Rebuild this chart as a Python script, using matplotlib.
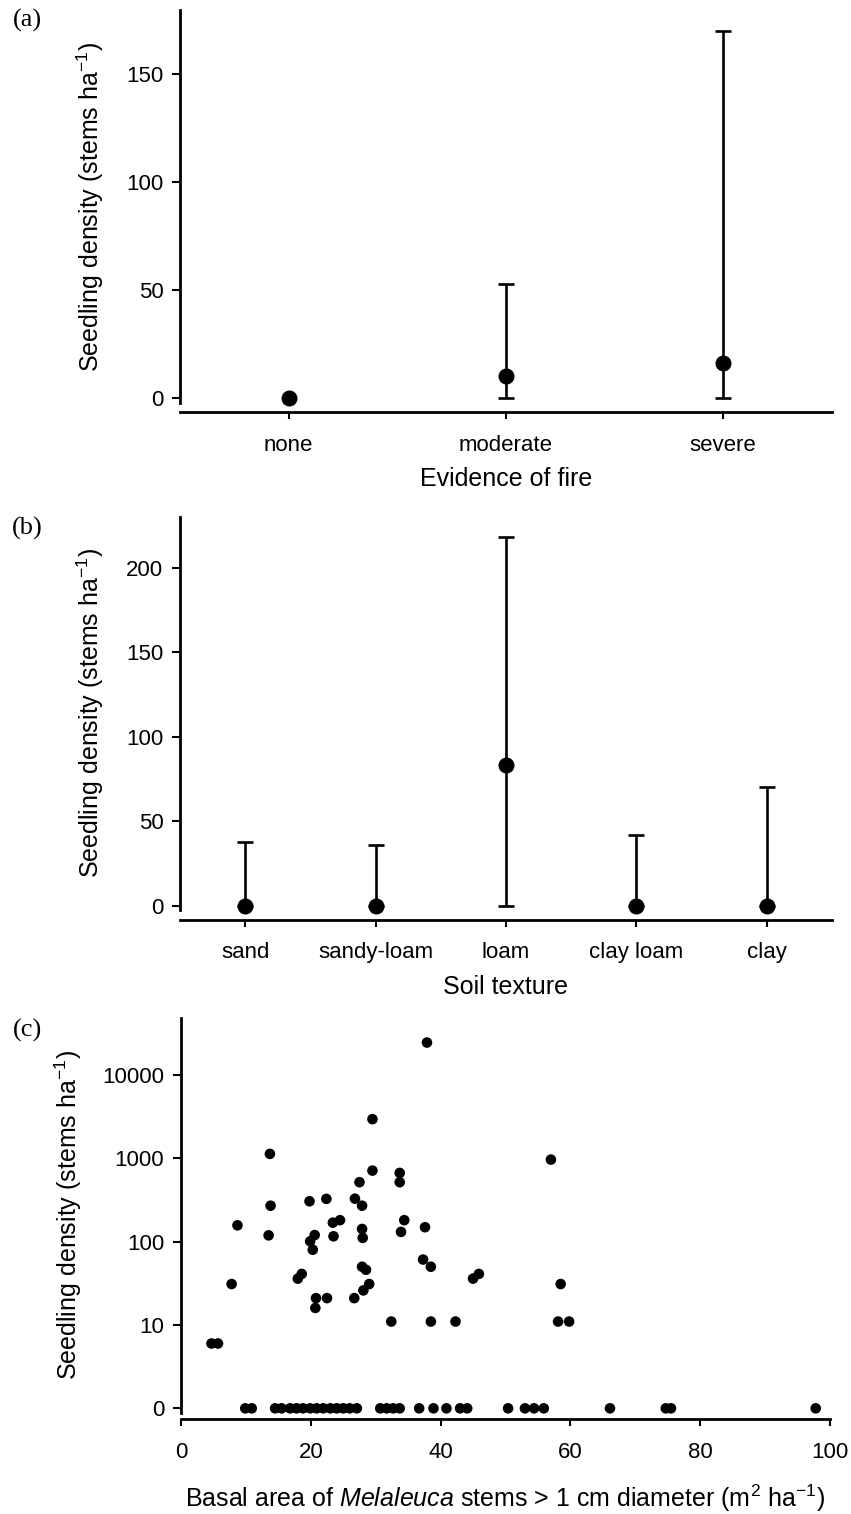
import numpy as np
import matplotlib
matplotlib.use('Agg')
import matplotlib.pyplot as plt
from matplotlib.ticker import NullLocator

plt.rcParams['font.family'] = ['Liberation Sans', 'DejaVu Sans']
plt.rcParams['mathtext.fontset'] = 'custom'
plt.rcParams['mathtext.rm'] = 'Liberation Sans'
plt.rcParams['mathtext.it'] = 'Liberation Sans:italic'
plt.rcParams['mathtext.bf'] = 'Liberation Sans:bold'

# ---------------- data ----------------
fire_cats = ['none', 'moderate', 'severe']
fire_mean = [0, 10, 16]
fire_low = [0, 0, 0]
fire_high = [0, 53, 170]

soil_cats = ['sand', 'sandy-loam', 'loam', 'clay loam', 'clay']
soil_mean = [0, 0, 83, 0, 0]
soil_low = [0, 0, 0, 0, 0]
soil_high = [38, 36, 218, 42, 70]

# panel (c): plots with seedlings present
basal_nz = [4.7, 5.7, 7.8, 8.7, 13.5, 13.7, 13.8, 18.0, 18.6, 19.8, 19.9, 20.3,
            20.6, 20.7, 20.8, 22.4, 22.5, 23.4, 23.5, 24.5, 26.7, 26.8, 27.5,
            27.9, 27.9, 28.0, 27.9, 28.5, 28.1, 29.0, 29.5, 29.5, 32.4, 33.7,
            33.7, 33.9, 34.4, 37.3, 37.6, 37.9, 38.5, 38.5, 42.3, 45.0, 45.9,
            57.0, 58.5, 58.1, 59.8]
dens_nz = [6, 6, 31, 157, 119, 1130, 270, 36, 41, 305, 101, 80,
           120, 16, 21, 326, 21, 169, 116, 181, 21, 328, 517,
           270, 142, 111, 50, 46, 26, 31, 2950, 712, 11, 668,
           517, 131, 181, 61, 149, 24500, 50, 11, 11, 36, 41,
           965, 31, 11, 11]
# panel (c): plots with no seedlings (density 0)
basal_zero = [9.9, 10.9, 14.5, 15.5, 16.8, 17.8, 18.8, 19.9, 20.9, 21.9, 23.0,
              24.0, 25.0, 26.0, 27.1, 30.7, 31.7, 32.7, 33.7, 36.7, 38.9, 40.9,
              43.0, 44.1, 50.4, 53.0, 54.4, 55.9, 66.1, 74.7, 75.5, 97.8]
log_ticks = [0, 10, 100, 1000, 10000]

# ---------------- figure ----------------
W, H = 851, 1514
fig = plt.figure(figsize=(W / 100, H / 100), dpi=100)


def px_axes(left, top, right, bottom):
    return fig.add_axes([left / W, 1 - bottom / H, (right - left) / W, (bottom - top) / H])


FS = 16
LFS = 18
YLAB = 'Seedling density (stems ha$^{-1}$)'


def style(ax, offset_px, xpad):
    for s in ['top', 'right']:
        ax.spines[s].set_visible(False)
    for s in ['left', 'bottom']:
        ax.spines[s].set_linewidth(2.0)
    ax.spines['bottom'].set_position(('outward', offset_px * 0.72))
    ax.tick_params(axis='y', direction='out', length=6, width=1.5, pad=6, labelsize=FS)
    ax.tick_params(axis='x', direction='out', length=5, width=1.5, pad=xpad, labelsize=FS)


def cat_panel(ax, cats, mean, low, high, ylim, yticks, offset_px, xlabel, xlab_y):
    x = np.arange(len(cats))
    m = np.array(mean, float)
    lo = np.array(low, float)
    hi = np.array(high, float)
    has = (hi > m) | (lo < m)
    ax.errorbar(x[has], m[has], yerr=[m[has] - lo[has], hi[has] - m[has]], fmt='none',
                ecolor='black', elinewidth=1.9, capsize=6, capthick=1.9, zorder=2)
    ax.plot(x, m, 'o', color='black', ms=10.5, zorder=3, clip_on=False)
    ax.set_xlim(-0.5, len(cats) - 0.5)
    ax.set_ylim(*ylim)
    ax.set_yticks(yticks)
    ax.set_xticks(x, cats)
    style(ax, offset_px, 11)
    ax.set_ylabel(YLAB, fontsize=LFS)
    ax.yaxis.set_label_coords(-0.114, 0.5)
    ax.set_xlabel(xlabel, fontsize=LFS)
    ax.xaxis.set_label_coords(0.5, xlab_y)


axa = px_axes(180, 10, 831.7, 403.3)
cat_panel(axa, fire_cats, fire_mean, fire_low, fire_high, (-2.5, 179.8),
          [0, 50, 100, 150], 9, 'Evidence of fire', -0.161)

axb = px_axes(180, 516.7, 831.7, 910)
cat_panel(axb, soil_cats, soil_mean, soil_low, soil_high, (-2.5, 230.2),
          [0, 50, 100, 150, 200], 10, 'Soil texture', -0.166)

# panel (c)
axc = px_axes(181, 1018.3, 830, 1412.5)
axc.set_yscale('log')
dens_nz_arr = np.array(dens_nz, float)
zero_vals = np.zeros(len(basal_zero))
# zero densities are drawn on the "0" line of the axis (position of 1 on the log scale)
axc.scatter(basal_nz, dens_nz_arr, s=58, color='black', edgecolors='none', zorder=3, clip_on=False)
axc.scatter(basal_zero, np.where(zero_vals == 0, 1, zero_vals), s=58, color='black',
            edgecolors='none', zorder=3, clip_on=False)
axc.set_xlim(0, 100)
axc.set_ylim(10 ** -0.05, 10 ** 4.68)
tick_pos = [1 if t == 0 else t for t in log_ticks]
axc.set_yticks(tick_pos, [str(t) for t in log_ticks])
axc.yaxis.set_minor_locator(NullLocator())
axc.set_xticks([0, 20, 40, 60, 80, 100])
style(axc, 6.5, 11.5)
axc.set_ylabel(YLAB, fontsize=LFS)
axc.yaxis.set_label_coords(-0.150, 0.5)
axc.set_xlabel(r'Basal area of $\mathit{Melaleuca}$ stems > 1 cm diameter (m$^{2}$ ha$^{-1}$)',
               fontsize=LFS)
axc.xaxis.set_label_coords(0.5, -0.178)

for lab, y in [('(a)', 20), ('(b)', 528), ('(c)', 1030)]:
    fig.text(27 / W, 1 - y / H, lab, family=['Liberation Serif', 'DejaVu Serif'],
             size=19, ha='center', va='center')

fig.savefig('out.png', dpi=100)
